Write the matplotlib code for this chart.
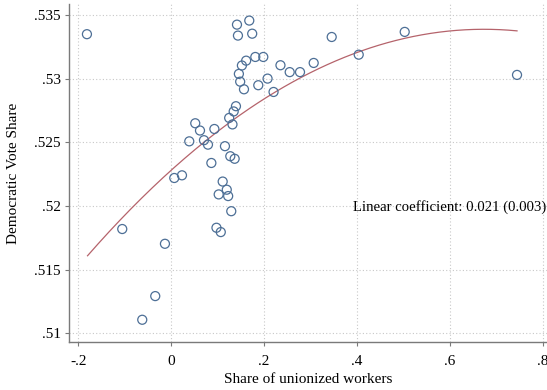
import numpy as np
import matplotlib
matplotlib.use("Agg")
import matplotlib.pyplot as plt

plt.rcParams['font.family'] = ['Liberation Serif', 'DejaVu Serif']

union_share = [-0.1817, -0.1056, -0.0136, -0.0345, -0.0625, 0.0065, 0.0231, 0.0388, 0.0517, 0.0619,
               0.0705, 0.0791, 0.0929, 0.0864, 0.1157, 0.1272, 0.1366, 0.1108, 0.1196, 0.1022,
               0.1226, 0.1293, 0.0974, 0.1067, 0.1319, 0.1248, 0.1345, 0.1394, 0.1416, 0.1681,
               0.1437, 0.1744, 0.1811, 0.1983, 0.1614, 0.1522, 0.1457, 0.1485, 0.1567, 0.1875,
               0.2075, 0.2204, 0.2353, 0.2552, 0.2774, 0.3069, 0.3457, 0.4039, 0.5030, 0.7450]
dem_share = [0.53351, 0.51820, 0.51704, 0.51293, 0.51107, 0.52221, 0.52242, 0.52509, 0.52651, 0.52594,
             0.52518, 0.52483, 0.52606, 0.52339, 0.52471, 0.52392, 0.52372, 0.52193, 0.52129, 0.52092,
             0.52079, 0.51960, 0.51830, 0.51796, 0.52642, 0.52693, 0.52744, 0.52785, 0.53426, 0.53458,
             0.53340, 0.53355, 0.53172, 0.53172, 0.53143, 0.53105, 0.53039, 0.52978, 0.52918, 0.52950,
             0.53002, 0.52897, 0.53107, 0.53053, 0.53053, 0.53125, 0.53329, 0.53190, 0.53369, 0.53031]

# quadratic fit coefficients (const, linear, quadratic)
fit_coef = [0.522824, 0.032871, -0.024399]
fit_range = [-0.1804, 0.745]

xticks = [-0.2, 0, 0.2, 0.4, 0.6, 0.8]
xtick_labels = ['-.2', '0', '.2', '.4', '.6', '.8']
yticks = [0.51, 0.515, 0.52, 0.525, 0.53, 0.535]
ytick_labels = ['.51', '.515', '.52', '.525', '.53', '.535']
annotation = 'Linear coefficient: 0.021 (0.003)'
annotation_y = 0.51995

fig = plt.figure(figsize=(5.47, 3.90), dpi=100)
ax = fig.add_axes([0.126, 0.123, 0.874, 0.867])

xs = np.linspace(fit_range[0], fit_range[1], 200)
ys = fit_coef[0] + fit_coef[1] * xs + fit_coef[2] * xs ** 2
ax.plot(xs, ys, color='#b5636b', lw=0.9, zorder=2)

ax.scatter(union_share, dem_share, s=42, facecolors='none', edgecolors='#4d6f96',
           linewidths=0.9, zorder=3)

ax.set_xlim(-0.2205, 0.8096)
ax.set_ylim(0.50932, 0.53589)
ax.set_xticks(xticks)
ax.set_xticklabels(xtick_labels)
ax.set_yticks(yticks)
ax.set_yticklabels(ytick_labels)
ax.grid(True, color='#c8c8c8', linestyle=(0, (1, 2)), linewidth=0.8)
ax.set_axisbelow(True)

for s in ['top', 'right']:
    ax.spines[s].set_visible(False)
for s in ['left', 'bottom']:
    ax.spines[s].set_color('#7a7a7a')
    ax.spines[s].set_linewidth(1.0)
ax.tick_params(axis='both', labelsize=11, color='#7a7a7a', length=3, width=0.8)
ax.tick_params(axis='y', pad=3)
ax.tick_params(axis='x', pad=6)

ax.set_xlabel('Share of unionized workers', fontsize=11, labelpad=4)
ax.set_ylabel('Democratic Vote Share', fontsize=11, labelpad=10)

ax.text(0.999, annotation_y, annotation, transform=ax.get_yaxis_transform(),
        ha='right', va='center', fontsize=10.6)

fig.savefig('out.png', dpi=100)
